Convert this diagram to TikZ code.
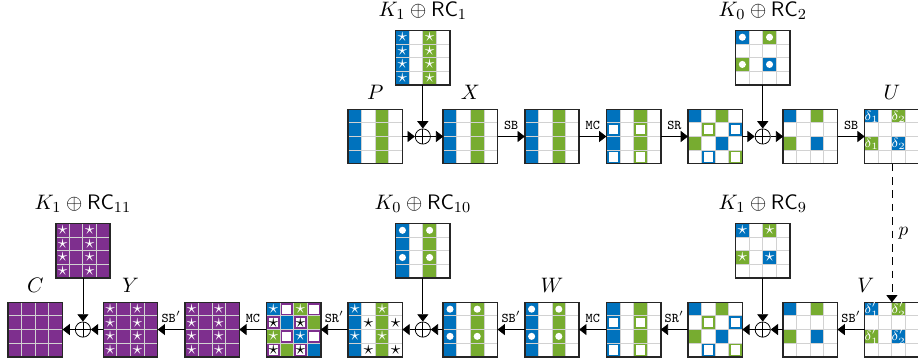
\documentclass[tikz,border=0pt]{standalone}
\usepackage{amsmath}
\usepackage{amssymb}
\usepackage{tikz}
\usetikzlibrary{arrows.meta}

\definecolor{mblue}{HTML}{0072BD}
\definecolor{mgreen}{HTML}{77AC30}
\definecolor{mpurple}{HTML}{7E2F8E}

% cells of a 4x4 state: #1 node, #2 row, #3 column
\newcommand{\cfill}[4]{\fill[#4] ([shift={(#3*0.25,-#2*0.25)}]#1.north west) rectangle +(0.25,-0.25);}
\newcommand{\cframe}[4]{\cfill{#1}{#2}{#3}{#4}%
  \fill[white] ([shift={(#3*0.25+0.04,-#2*0.25-0.04)}]#1.north west) rectangle +(0.17,-0.17);}
\newcommand{\cmark}[4]{\node[sym] (#1-#2-#3) at ([shift={(#3*0.25+0.125,-#2*0.25-0.125)}]#1.north west) {#4};}
\newcommand{\cdisc}[3]{\fill[white] ([shift={(#3*0.25+0.125,-#2*0.25-0.125)}]#1.north west) circle (0.065);}
\newcommand{\colfill}[3]{\fill[#3] ([xshift=#2*0.25cm]#1.north west) rectangle +(0.25,-1);}
\newcommand{\stategrid}[1]{%
  \foreach \i in {1,2,3} {
    \draw[gridline] ([xshift=\i*0.25cm]#1.north west) -- ([xshift=\i*0.25cm]#1.south west);
    \draw[gridline] ([yshift=-\i*0.25cm]#1.north west) -- ([yshift=-\i*0.25cm]#1.north east);}
  \draw[border] (#1.north west) rectangle (#1.south east);}
\newcommand{\wstar}{\textcolor{white}{$\star$}}
\newcommand{\bstar}{$\star$}
\newcommand{\dlab}[1]{\textcolor{white}{\scriptsize #1}}

\begin{document}
\begin{tikzpicture}[>={Triangle[length=3.8pt,width=5.8pt]},node distance=1.5cm,thin]
  \tikzstyle{block}=[rectangle,minimum size=1cm,inner sep=0pt,outer sep=0pt]
  \tikzstyle{xor}=[circle,draw,minimum size=2.8mm,inner sep=0pt,
    path picture={\draw (path picture bounding box.north) -- (path picture bounding box.south)
      (path picture bounding box.west) -- (path picture bounding box.east);}]
  \tikzstyle{gridline}=[gray!35,line width=0.5pt]
  \tikzstyle{border}=[black!85,line width=0.8pt]
  \tikzstyle{sym}=[inner sep=0pt,text height=4.5pt,text depth=0pt]
  \tikzstyle{op}=[above,font=\scriptsize\ttfamily]
  \tikzstyle{statelab}=[inner sep=1pt,label distance=4pt,font=\fontsize{11}{13}\selectfont]
  \tikzstyle{keylab}=[inner sep=1pt,label distance=4.7pt,font=\fontsize{11}{13}\selectfont]
\useasboundingbox (-0.15,-0.09) rectangle (16.73,6.56);

% bottom row
\node [block,label={[statelab]above:$C$}] (c) at (0.5,0.5) {};
\node [xor] (xc) [right of=c,node distance=0.875cm] {};
\node [block,label={[statelab]above:$Y$}] (y) [right of=xc,node distance=0.875cm] {};
\node [block] (b1) [right of=y] {};
\node [block] (b2) [right of=b1] {};
\node [block] (b3) [right of=b2] {};
\node [xor] (xb) [right of=b3,node distance=0.875cm] {};
\node [block] (b4) [right of=xb,node distance=0.875cm] {};
\node [block,label={[statelab]above:$W$}] (w) [right of=b4] {};
\node [block] (b5) [right of=w] {};
\node [block] (b6) [right of=b5] {};
\node [xor] (xa) [right of=b6,node distance=0.875cm] {};
\node [block] (b7) [right of=xa,node distance=0.875cm] {};
\node [block,label={[statelab,xshift=-0.48cm]above:$V$}] (v) [right of=b7] {};
\node [block,label={[keylab]above:$K_1\oplus\mathsf{RC}_{11}$}] (k11) [above of=xc,node distance=1.45cm] {};
\node [block,label={[keylab]above:$K_0\oplus\mathsf{RC}_{10}$}] (k10) [above of=xb,node distance=1.45cm] {};
\node [block,label={[keylab]above:$K_1\oplus\mathsf{RC}_{9}$}] (k9) [above of=xa,node distance=1.45cm] {};

% top row
\node [block,label={[statelab]above:$P$}] (p) [above of=b3,node distance=3.55cm] {};
\node [xor] (xp) [right of=p,node distance=0.875cm] {};
\node [block,label={[statelab]above:$X$}] (x) [right of=xp,node distance=0.875cm] {};
\node [block] (t1) [right of=x] {};
\node [block] (t2) [right of=t1] {};
\node [block] (t3) [right of=t2] {};
\node [xor] (xq) [right of=t3,node distance=0.875cm] {};
\node [block] (t4) [right of=xq,node distance=0.875cm] {};
\node [block,label={[statelab]above:$U$}] (u) [right of=t4] {};
\node [block,label={[keylab]above:$K_1\oplus\mathsf{RC}_1$}] (k1) [above of=xp,node distance=1.45cm] {};
\node [block,label={[keylab]above:$K_0\oplus\mathsf{RC}_2$}] (k2) [above of=xq,node distance=1.45cm] {};

% fills
\foreach \n in {p,k1,x,t1,w,b4,k10,b3} {\colfill{\n}{0}{mblue} \colfill{\n}{2}{mgreen}}
\foreach \n in {t2,b5} {
  \foreach \rw in {0,2} {\cfill{\n}{\rw}{0}{mblue} \cfill{\n}{\rw}{2}{mgreen}}
  \foreach \rw in {1,3} {\cframe{\n}{\rw}{0}{mblue} \cframe{\n}{\rw}{2}{mgreen}}}
\foreach \n in {t3,b6} {
  \cfill{\n}{0}{0}{mblue} \cfill{\n}{0}{2}{mgreen} \cfill{\n}{2}{0}{mgreen} \cfill{\n}{2}{2}{mblue}
  \cframe{\n}{1}{1}{mgreen} \cframe{\n}{1}{3}{mblue} \cframe{\n}{3}{1}{mblue} \cframe{\n}{3}{3}{mgreen}}
\foreach \n in {k2,t4,u,v,b7,k9} {
  \cfill{\n}{0}{0}{mblue} \cfill{\n}{0}{2}{mgreen} \cfill{\n}{2}{0}{mgreen} \cfill{\n}{2}{2}{mblue}}
\foreach \n in {c,y,b1,k11} {\fill[mpurple] (\n.north west) rectangle (\n.south east);}
\cfill{b2}{0}{0}{mblue} \cfill{b2}{0}{2}{mgreen} \cfill{b2}{1}{1}{mblue} \cfill{b2}{1}{3}{mgreen}
\cfill{b2}{2}{0}{mgreen} \cfill{b2}{2}{2}{mblue} \cfill{b2}{3}{1}{mgreen} \cfill{b2}{3}{3}{mblue}
\foreach \rw/\cl in {0/1,0/3,1/0,1/2,2/1,2/3,3/0,3/2} {\cframe{b2}{\rw}{\cl}{mpurple}}

% grids
\foreach \n in {p,k1,x,t1,t2,t3,k2,t4,u,c,k11,y,b1,b2,b3,k10,b4,w,b5,b6,k9,b7,v} {\stategrid{\n}}

% marks
\foreach \n in {k1,y,b1,k11} {
  \foreach \rw in {0,...,3} {\cmark{\n}{\rw}{0}{\wstar} \cmark{\n}{\rw}{2}{\wstar}}}
\foreach \n in {k2,k10,b4,w} {
  \foreach \rw/\cl in {0/0,0/2,2/0,2/2} {\cdisc{\n}{\rw}{\cl}}}
\foreach \n in {k9,b3,b2} {
  \foreach \rw/\cl in {0/0,0/2,2/0,2/2} {\cmark{\n}{\rw}{\cl}{\wstar}}}
\foreach \rw/\cl in {1/1,1/3,3/1,3/3} {\cmark{b3}{\rw}{\cl}{\bstar}}
\foreach \rw/\cl in {1/0,1/2,3/0,3/2} {\cmark{b2}{\rw}{\cl}{\bstar}}
\cmark{u}{0}{0}{\dlab{$\delta_1$}} \cmark{u}{0}{2}{\dlab{$\delta_2$}}
\cmark{u}{2}{0}{\dlab{$\delta_1$}} \cmark{u}{2}{2}{\dlab{$\delta_2$}}
\cmark{v}{0}{0}{\dlab{$\delta'_1$}} \cmark{v}{0}{2}{\dlab{$\delta'_2$}}
\cmark{v}{2}{0}{\dlab{$\delta'_1$}} \cmark{v}{2}{2}{\dlab{$\delta'_2$}}

\path [->] (p) edge (xp)
      (k1) edge (xp)
      (xp) edge (x)
      (x) edge node [op] {SB} (t1)
      (t1) edge node [op] {MC} (t2)
      (t2) edge node [op] {SR} (t3)
      (t3) edge (xq)
      (k2) edge (xq)
      (xq) edge (t4)
      (t4) edge node [op] {SB} (u)
      (u) edge [dash pattern=on 4pt off 3pt] node [right] {$p$} (v)
      (v) edge node [op] {SB$'$} (b7)
      (b7) edge (xa)
      (k9) edge (xa)
      (xa) edge (b6)
      (b6) edge node [op] {SR$'$} (b5)
      (b5) edge node [op] {MC} (w)
      (w) edge node [op] {SB$'$} (b4)
      (b4) edge (xb)
      (k10) edge (xb)
      (xb) edge (b3)
      (b3) edge node [op] {SR$'$} (b2)
      (b2) edge node [op] {MC} (b1)
      (b1) edge node [op] {SB$'$} (y)
      (y) edge (xc)
      (k11) edge (xc)
      (xc) edge (c);
\end{tikzpicture}
\end{document}
